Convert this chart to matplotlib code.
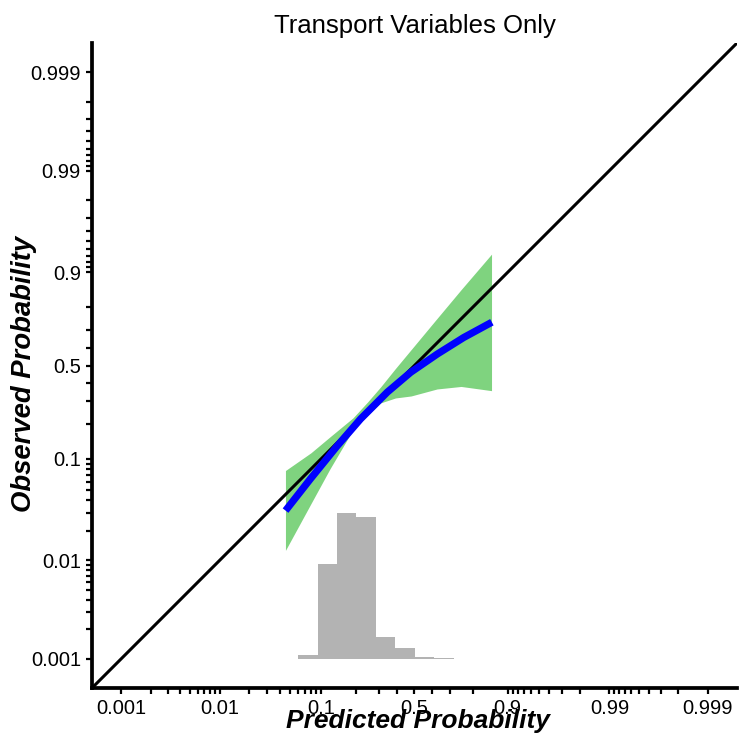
import numpy as np
import matplotlib
matplotlib.use("Agg")
import matplotlib.pyplot as plt
import matplotlib.transforms as mtransforms
from matplotlib.ticker import FixedLocator, NullFormatter

plt.rcParams['font.family'] = ['Liberation Sans', 'DejaVu Sans']

# axis ticks (probability, logit scale)
major_ticks = [0.001, 0.01, 0.1, 0.5, 0.9, 0.99, 0.999]
major_labels = ['0.001', '0.01', '0.1', '0.5', '0.9', '0.99', '0.999']
minor_ticks = ([k / 1000 for k in range(2, 10)] + [k / 100 for k in range(2, 10)]
               + [0.2, 0.3, 0.4, 0.6, 0.7, 0.8]
               + [0.9 + k / 100 for k in range(1, 9)] + [0.99 + k / 1000 for k in range(1, 9)])
lims = (0.0005, 0.9995)

# calibration curve (predicted vs observed)
curve_pred = [0.0457, 0.0794, 0.1395, 0.219, 0.345, 0.4775, 0.631, 0.761, 0.861]
curve_obs = [0.0317, 0.0648, 0.131, 0.221, 0.348, 0.460, 0.567, 0.659, 0.735]

# confidence band
band_pred = [0.0456, 0.08, 0.12, 0.19, 0.25, 0.31, 0.39, 0.48, 0.63, 0.75, 0.86]
band_upper = [0.0776, 0.1132, 0.1568, 0.2254, 0.299, 0.376, 0.483, 0.5924, 0.7522, 0.8567, 0.9324]
band_lower = [0.01265, 0.0370, 0.0805, 0.180, 0.2378, 0.2928, 0.3176, 0.3278, 0.3652, 0.379, 0.356]

# histogram of predicted probabilities (bin edges and share of cases)
hist_edges = [0.060, 0.0928, 0.139, 0.203, 0.287, 0.388, 0.504, 0.615, 0.717, 0.802]
hist_share = [0.010, 0.223, 0.343, 0.335, 0.053, 0.026, 0.006, 0.0024, 0.0007]

fig = plt.figure(figsize=(7.51, 7.49), dpi=100)
ax = fig.add_axes([92 / 751, 1 - 688 / 749, 645 / 751, 645 / 749])
ax.set_xscale('logit')
ax.set_yscale('logit')

# histogram along the bottom (x in data, y in axes fraction)
trans = mtransforms.blended_transform_factory(ax.transData, ax.transAxes)
edges = np.array(hist_edges)
heights = np.array(hist_share) / max(hist_share) * 0.2264
ax.bar(edges[:-1], heights, width=np.diff(edges), bottom=0.0445, align='edge',
       color='#b3b3b3', linewidth=0, transform=trans, zorder=1)

ax.fill_between(band_pred, band_lower, band_upper, color='#7fd37f', linewidth=0, zorder=2)
ax.plot(lims, lims, color='black', lw=2.2, zorder=3)
ax.plot(curve_pred, curve_obs, color='#0000ff', lw=5.2, solid_capstyle='butt', zorder=4)

ax.set_xlim(lims)
ax.set_ylim(lims)

for axis in (ax.xaxis, ax.yaxis):
    axis.set_major_locator(FixedLocator(major_ticks))
    axis.set_minor_locator(FixedLocator(minor_ticks))
    axis.set_minor_formatter(NullFormatter())
ax.set_xticklabels(major_labels)
ax.set_yticklabels(major_labels)

for s in ('top', 'right'):
    ax.spines[s].set_visible(False)
for s in ('left', 'bottom'):
    ax.spines[s].set_linewidth(2.7)
ax.tick_params(which='both', direction='out', length=4, width=1.6, color='black')
ax.tick_params(axis='x', which='major', labelsize=14.5, pad=4)
ax.tick_params(axis='y', which='major', labelsize=14.5, pad=4)

fig.text(414.5 / 751, 1 - 33 / 749, 'Transport Variables Only', ha='center',
         va='baseline', fontsize=18.5)
fig.text(417.5 / 751, 1 - 728 / 749, 'Predicted Probability', ha='center',
         va='baseline', fontsize=19, fontweight='bold', fontstyle='italic')
fig.text(24 / 751, 1 - 374 / 749, 'Observed Probability', ha='center', va='center',
         rotation=90, fontsize=19.8, fontweight='bold', fontstyle='italic')

fig.savefig('out.png', dpi=100)
